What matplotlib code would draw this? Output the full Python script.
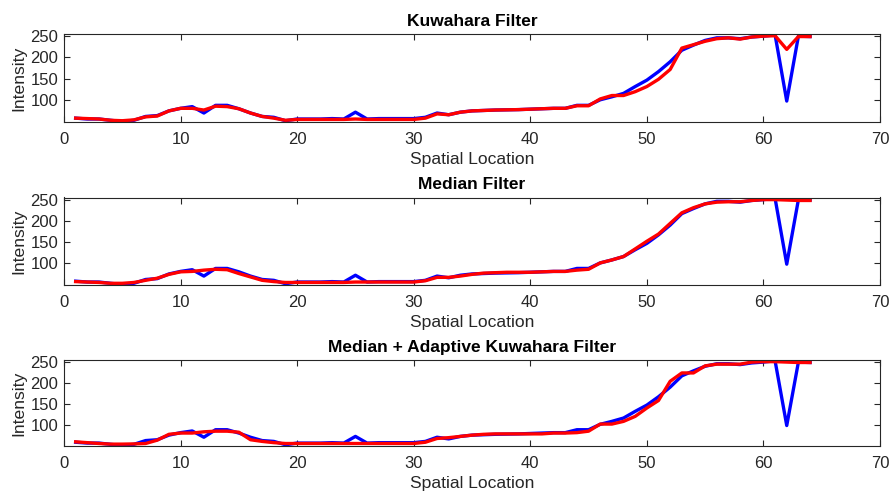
import numpy as np
import matplotlib
matplotlib.use("Agg")
import matplotlib.pyplot as plt

plt.rcParams['font.family'] = ['Liberation Sans', 'DejaVu Sans']

# intensity profile along one image row, before and after filtering
pos = np.arange(1, 65)
original = [58, 56, 56, 53, 50, 53, 62, 64, 75, 81, 85, 70, 88, 88, 80, 70,
            62, 60, 52, 56, 56, 56, 57, 56, 72, 56, 57, 57, 57, 57, 60, 70,
            66, 72, 75, 76, 77, 77.5, 78, 79, 80, 81, 81, 88, 88, 101, 108, 116,
            132, 147, 167, 190, 217, 229, 240, 246, 246, 244, 248, 250, 253, 98,
            250, 249]
kuwahara = [58, 57, 56, 53, 52, 54, 61, 63, 75, 81, 81, 77, 86, 85, 80, 70,
            62, 58, 53, 55, 55, 55, 55, 55, 56, 55, 55, 55, 55, 55, 58, 68,
            66, 72, 75, 76, 77, 77.5, 78, 79, 80, 81, 81, 87, 87, 103, 111, 111,
            120, 132, 149, 172, 222, 230, 238, 244, 246, 243, 248, 250, 251, 219,
            249, 249]
median = [57, 56, 55, 53, 53, 55, 60, 65, 74, 80, 81, 84, 86, 85, 76, 68,
          60, 57, 55, 55, 55, 55, 55, 55, 56, 56, 56, 56, 56, 56, 59, 67,
          67, 70, 74, 77, 78, 79, 79, 79, 80, 81, 81, 84, 86, 101, 108, 116,
          134, 152, 169, 194, 219, 231, 240, 244, 245, 245, 248, 250, 250, 249,
          248, 248]
med_adaptive = [59, 57, 55, 53.5, 53.5, 54, 55, 63, 77, 80, 80, 83, 84.5, 84.5, 82, 64,
                60, 57, 55, 55, 55, 55, 55, 55, 55, 55, 55, 55, 55, 55, 58, 67,
                69, 72, 75, 77, 78, 78, 78, 78, 78, 80, 80, 81, 84.5, 101.5, 101.5, 108,
                120, 140, 158, 204, 224, 224, 241, 245, 245, 245, 250, 251, 251, 250,
                249, 249]

titles = ['Kuwahara Filter', 'Median Filter', 'Median + Adaptive Kuwahara Filter']
filtered = [kuwahara, median, med_adaptive]

fig = plt.figure(figsize=(8.94, 4.96), dpi=100)
W, H = 894, 496
boxes = [(34, 122), (197.5, 285), (360, 446)]
axc = '#262626'

for (top, bot), ttl, f in zip(boxes, titles, filtered):
    ax = fig.add_axes([64 / W, 1 - bot / H, (880 - 64) / W, (bot - top) / H])
    ax.plot(pos, original, color='#0000ff', lw=2.4)
    ax.plot(pos, f, color='#ff0000', lw=2.4)
    ax.set_xlim(0, 70)
    ax.set_ylim(49, 255)
    ax.set_xticks(range(0, 71, 10))
    ax.set_yticks([100, 150, 200, 250])
    ax.tick_params(direction='in', top=True, right=True, length=4, width=0.8,
                   colors=axc, labelsize=12)
    ax.tick_params(axis='x', pad=7)
    ax.tick_params(axis='y', pad=4)
    for s in ax.spines.values():
        s.set_color(axc)
        s.set_linewidth(0.8)
    ax.set_title(ttl, fontsize=12.5, fontweight='bold', color='black', pad=6)
    ax.set_xlabel('Spatial Location', fontsize=12.6, color=axc, labelpad=4)
    ax.set_ylabel('Intensity', fontsize=12.6, color=axc, labelpad=3)

fig.savefig('out.png', dpi=100)
